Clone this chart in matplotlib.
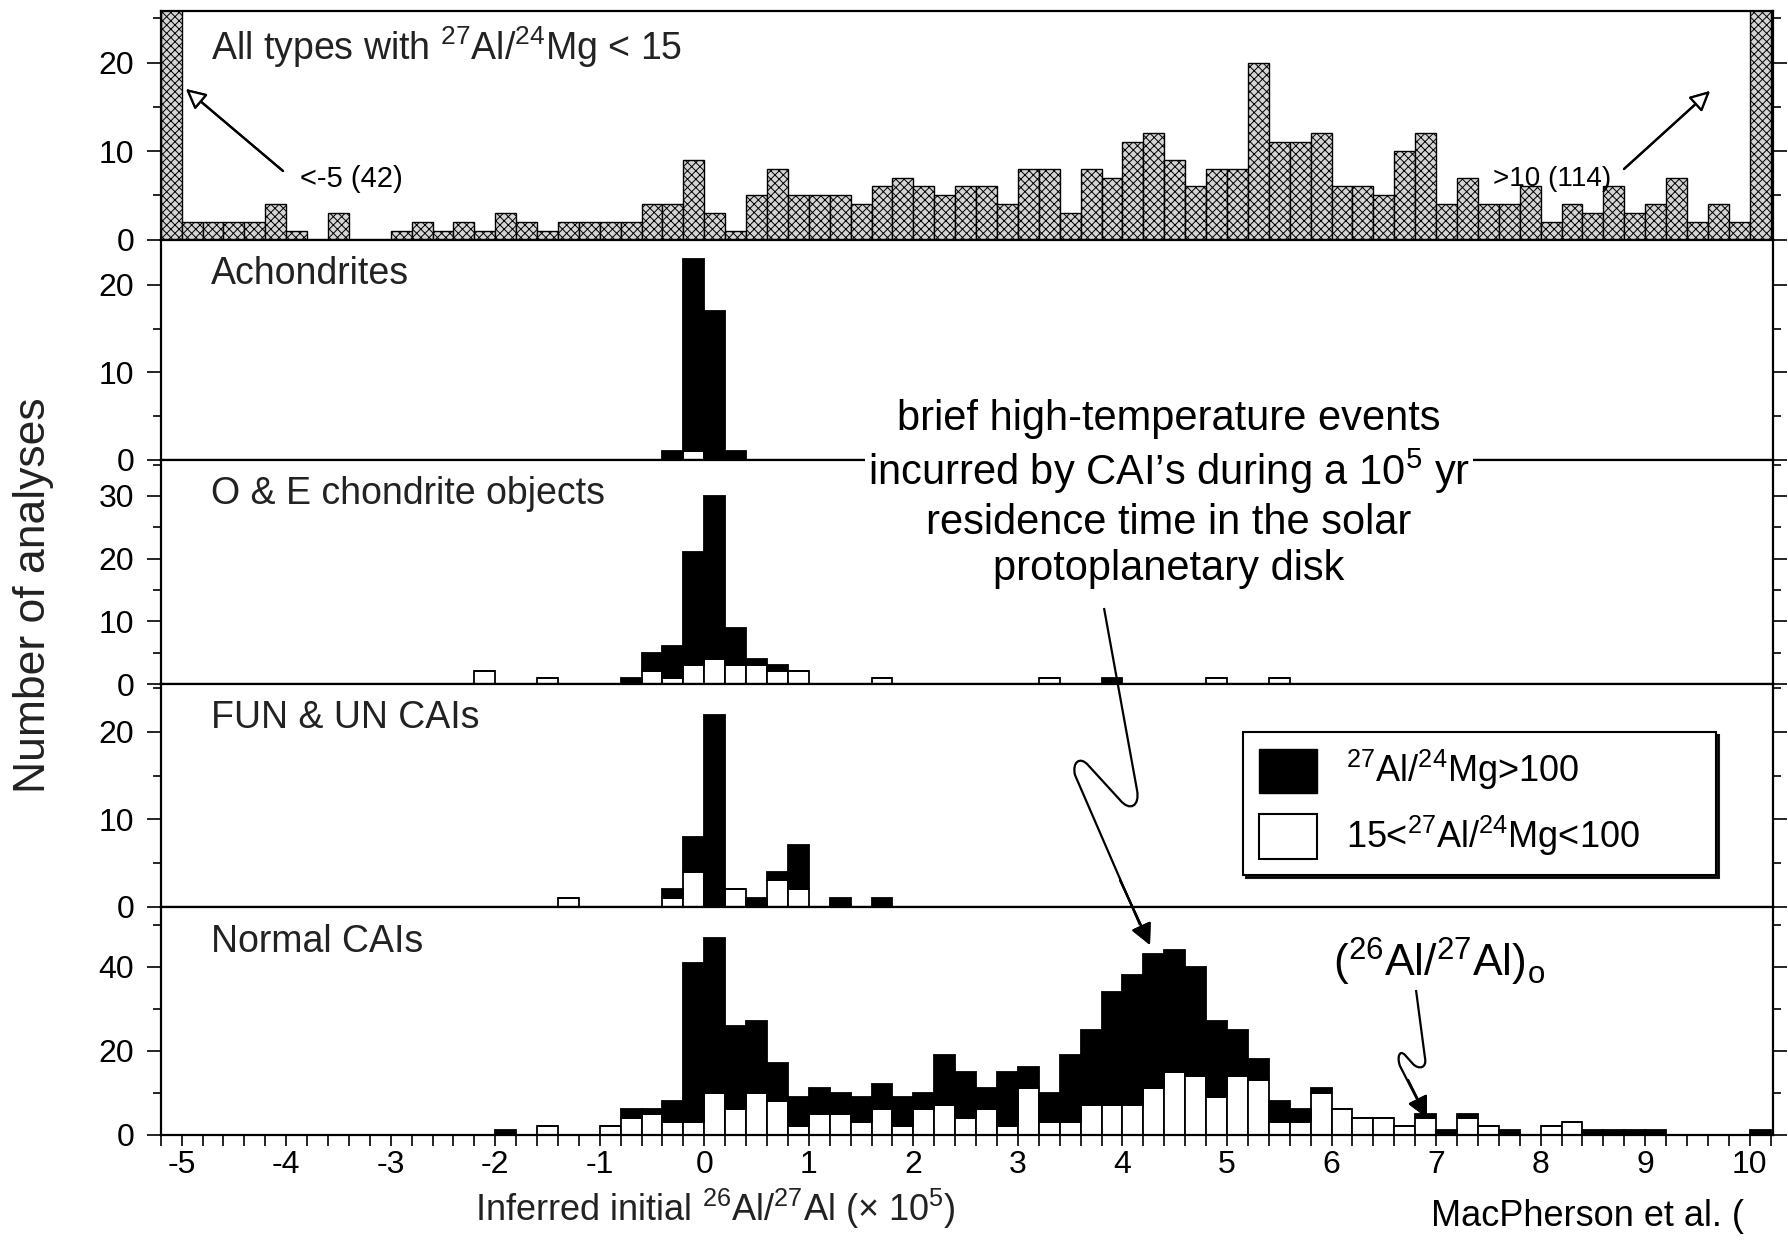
import numpy as np
import matplotlib.pyplot as plt
from matplotlib.patches import Patch, PathPatch
from matplotlib.path import Path

plt.rcParams['font.family'] = ['Liberation Sans', 'DejaVu Sans']
plt.rcParams['axes.unicode_minus'] = False
plt.rcParams['hatch.linewidth'] = 0.7
plt.rcParams['mathtext.fontset'] = 'custom'
plt.rcParams['mathtext.rm'] = 'Liberation Sans'

# ---- data (bins are 0.2 wide, value = left edge) ----
# top panel: all types with 27Al/24Mg < 15, from -5.2 (overflow <-5) to 10.0 (overflow >10)
top_left = np.round(np.arange(-5.2, 10.01, 0.2), 1)
top_counts = [42,
              2, 2, 2, 2, 4, 1, 0, 3, 0, 0,
              1, 2, 1, 2, 1, 3, 2, 1, 2, 2,
              2, 2, 4, 4, 9, 3, 1, 5, 8, 5,
              5, 5, 4, 6, 7, 6, 5, 6, 6, 4,
              8, 8, 3, 8, 7, 11, 12, 9, 6, 8,
              8, 20, 11, 11, 12, 6, 6, 5, 10, 12,
              4, 7, 4, 4, 6, 2, 4, 3, 6, 3,
              4, 7, 2, 4, 2,
              114]

# lower panels: white = 15<27Al/24Mg<100, black = 27Al/24Mg>100 (stacked on white)
achon_x = [-0.4, -0.2, 0.0, 0.2]
achon_white = [0, 1, 0, 0]
achon_black = [1, 22, 17, 1]

oe_x = [-2.2, -1.6, -0.8, -0.6, -0.4, -0.2, 0.0, 0.2, 0.4, 0.6, 0.8, 1.6, 3.2, 3.8, 4.8, 5.4]
oe_white = [2, 1, 0, 2, 1, 3, 4, 3, 3, 2, 2, 1, 1, 0, 1, 1]
oe_black = [0, 0, 1, 3, 5, 18, 26, 6, 1, 1, 0, 0, 0, 1, 0, 0]

fun_x = [-1.4, -0.4, -0.2, 0.0, 0.2, 0.4, 0.6, 0.8, 1.2, 1.6]
fun_white = [1, 1, 4, 0, 2, 0, 3, 2, 0, 0]
fun_black = [0, 1, 4, 22, 0, 1, 1, 5, 1, 1]

norm_x = [-2.0, -1.6, -1.0, -0.8, -0.6, -0.4, -0.2, 0.0, 0.2, 0.4, 0.6, 0.8,
          1.0, 1.2, 1.4, 1.6, 1.8, 2.0, 2.2, 2.4, 2.6, 2.8,
          3.0, 3.2, 3.4, 3.6, 3.8, 4.0, 4.2, 4.4, 4.6, 4.8,
          5.0, 5.2, 5.4, 5.6, 5.8, 6.0, 6.2, 6.4, 6.6, 6.8,
          7.0, 7.2, 7.4, 7.6, 8.0, 8.2, 8.4, 8.6, 8.8, 9.0, 10.0]
norm_total = [1, 2, 2, 6, 6, 8, 41, 47, 26, 27, 17, 9,
              11, 10, 9, 12, 9, 10, 19, 15, 11, 15,
              16, 10, 19, 25, 34, 38, 43, 44, 40, 27,
              25, 18, 8, 6, 11, 6, 4, 4, 2, 5,
              1, 5, 2, 1, 2, 3, 1, 1, 1, 1, 1]
norm_white = [0, 2, 2, 4, 5, 3, 3, 10, 6, 10, 8, 2,
              5, 5, 3, 6, 2, 6, 7, 4, 6, 2,
              11, 3, 3, 7, 7, 7, 11, 15, 14, 9,
              14, 13, 3, 3, 10, 6, 4, 4, 2, 4,
              0, 4, 2, 0, 2, 3, 0, 0, 0, 0, 0]

panel_names = ['All types with $^{27}$Al/$^{24}$Mg < 15', 'Achondrites',
               'O & E chondrite objects', 'FUN & UN CAIs', 'Normal CAIs']

W, H = 1788, 1240
fig = plt.figure(figsize=(W / 100, H / 100), dpi=100)


def fpx(x, y):
    return (x / W, 1 - y / H)


# panel edges in pixels
left_px, right_px = 160.7, 1772.7
edges = [11.4, 239.5, 459.5, 684, 906.5, 1134.5]
ylims = [25.8, 25.2, 35.8, 25.5, 54.4]
majors = [[0, 10, 20], [0, 10, 20], [0, 10, 20, 30], [0, 10, 20], [0, 20, 40]]
minors = [[5, 15, 25], [5, 15], [5, 15, 25, 35], [5, 15, 25], [10, 30, 50]]

axes = []
for i in range(5):
    y0 = 1 - edges[i + 1] / H
    hh = (edges[i + 1] - edges[i]) / H
    ax = fig.add_axes([left_px / W, y0, (right_px - left_px) / W, hh])
    ax.set_xlim(-5.2, 10.22)
    ax.set_ylim(0, ylims[i])
    ax.set_yticks(majors[i])
    ax.set_yticks(minors[i], minor=True)
    ax.tick_params(axis='y', which='both', direction='out', right=True,
                   labelright=False, labelsize=23, length=10, width=1.2, pad=9)
    ax.tick_params(axis='y', which='minor', length=6)
    for s in ax.spines.values():
        s.set_linewidth(1.6)
    ax.text(0.031, 0.845, panel_names[i], transform=ax.transAxes,
            fontsize=27, va='center', ha='left', color='#222222')
    if i < 4:
        ax.set_xticks([])
    axes.append(ax)

# top panel
axes[0].bar(top_left, top_counts, width=0.2, align='edge', facecolor='#d4d4d4',
            edgecolor='black', linewidth=1.0, hatch='xxxx')


def stacked(ax, xs, white, black):
    ax.bar(xs, white, width=0.2, align='edge', facecolor='white',
           edgecolor='black', linewidth=1.3, zorder=2)
    ax.bar(xs, black, width=0.2, align='edge', bottom=white, facecolor='black',
           edgecolor='black', linewidth=1.3, zorder=2)


stacked(axes[1], achon_x, achon_white, achon_black)
stacked(axes[2], oe_x, oe_white, oe_black)
stacked(axes[3], fun_x, fun_white, fun_black)
norm_black = [t - w for t, w in zip(norm_total, norm_white)]
stacked(axes[4], norm_x, norm_white, norm_black)

bax = axes[4]
bax.set_xticks(np.arange(-5, 11, 1))
bax.set_xticks(np.round(np.arange(-5.2, 10.21, 0.2), 1), minor=True)
bax.tick_params(axis='x', which='both', direction='out', length=8, width=1.2,
                labelsize=23, pad=3)

fig.text(0.019, 1 - 595 / H, 'Number of analyses', rotation=90, fontsize=32,
         ha='center', va='center', color='#222222')
fig.text(715 / W, 1 - 1209 / H, r'Inferred initial $^{26}$Al/$^{27}$Al ($\times$ 10$^{5}$)',
         fontsize=26, ha='center', va='center', color='#222222')

# overflow annotations in top panel
fig.text(*fpx(300, 179), '<-5 (42)', fontsize=21, ha='left', va='center')
fig.text(*fpx(1493, 179), '>10 (114)', fontsize=20, ha='left', va='center')
aprops = dict(arrowstyle='-|>', facecolor='white', edgecolor='black', lw=1.6,
              mutation_scale=30, shrinkA=0, shrinkB=0)
fig.add_artist(plt.annotate('', xy=fpx(186, 89), xytext=fpx(283, 171),
                            xycoords='figure fraction', textcoords='figure fraction',
                            arrowprops=aprops))
fig.add_artist(plt.annotate('', xy=fpx(1710, 91), xytext=fpx(1624, 169),
                            xycoords='figure fraction', textcoords='figure fraction',
                            arrowprops=aprops))

# legend
handles = [Patch(facecolor='black', edgecolor='black'),
           Patch(facecolor='white', edgecolor='black', linewidth=1.5)]
labels = [r'$^{27}$Al/$^{24}$Mg>100', r'15<$^{27}$Al/$^{24}$Mg<100']
x0, y0 = fpx(1243, 732)
leg = fig.legend(handles, labels, loc='upper left', bbox_to_anchor=(x0, y0 - 0.2, 473 / W, 0.2),
                 mode='expand', fontsize=26, handlelength=1.6, handleheight=1.5,
                 labelspacing=0.6, borderpad=0.45, handletextpad=0.8, borderaxespad=0,
                 fancybox=False, edgecolor='black', framealpha=1,
                 shadow={'color': 'black', 'alpha': 0.9})
leg.get_frame().set_linewidth(1.5)

# annotation text and squiggly arrows
fig.text(1169 / W, 1 - 494 / H,
         'brief high-temperature events\nincurred by CAI\u2019s during a 10$^{5}$ yr\n'
         'residence time in the solar\nprotoplanetary disk',
         fontsize=30, ha='center', va='center', linespacing=1.2,
         bbox=dict(facecolor='white', edgecolor='none', pad=2), zorder=10)
fig.text(1333 / W, 1 - 962 / H, r'($^{26}$Al/$^{27}$Al)$_{\rm o}$', fontsize=32,
         ha='left', va='center')


def squiggle(pts_px, codes):
    verts = [fpx(x, y) for x, y in pts_px]
    p = PathPatch(Path(verts, codes), facecolor='none', edgecolor='black', lw=1.6,
                  transform=fig.transFigure, zorder=11)
    fig.add_artist(p)


M, L, C = Path.MOVETO, Path.LINETO, Path.CURVE4
squiggle([(1104, 608), (1137, 790), (1140, 806), (1130, 812), (1120, 800),
          (1088, 765), (1080, 756), (1072, 762), (1075, 775), (1140, 925)],
         [M, L, C, C, C, L, C, C, C, L])
hprops = dict(arrowstyle='-|>', facecolor='black', edgecolor='black', lw=1.6,
              mutation_scale=32, shrinkA=0, shrinkB=0)
fig.add_artist(plt.annotate('', xy=fpx(1150, 945), xytext=fpx(1120, 880),
                            xycoords='figure fraction', textcoords='figure fraction',
                            arrowprops=hprops))
squiggle([(1416, 990), (1425, 1058), (1427, 1068), (1419, 1070), (1413, 1064),
          (1405, 1055), (1399, 1049), (1397, 1058), (1400, 1066), (1420, 1105)],
         [M, L, C, C, C, L, C, C, C, L])
fig.add_artist(plt.annotate('', xy=fpx(1427, 1118), xytext=fpx(1408, 1080),
                            xycoords='figure fraction', textcoords='figure fraction',
                            arrowprops=hprops))

fig.text(1431 / W, 1 - 1216 / H, 'MacPherson et al. (', fontsize=26,
         ha='left', va='center')

fig.savefig('out.png', dpi=100)
